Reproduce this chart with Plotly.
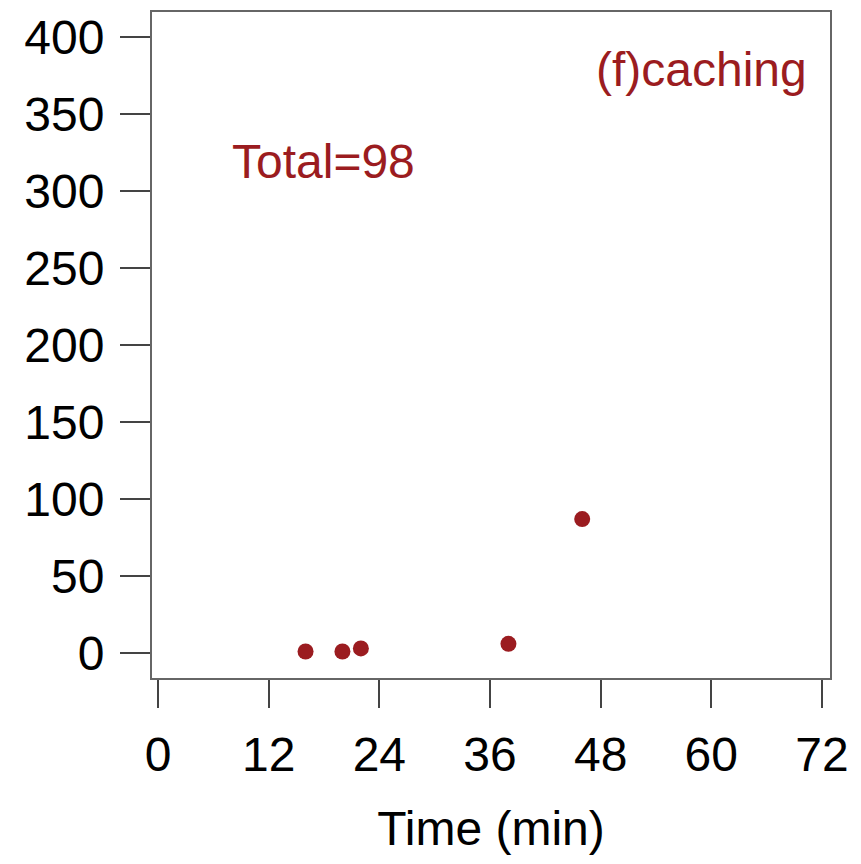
import plotly.graph_objects as go

# Caching events over time
time_min = [16, 20, 22, 38, 46]
counts = [1, 1, 3, 6, 87]
total = sum(counts)

x_ticks = [0, 12, 24, 36, 48, 60, 72]
y_ticks = [0, 50, 100, 150, 200, 250, 300, 350, 400]

red = "#9b1c20"
font_family = "Liberation Sans, Arial, Helvetica, sans-serif"
fsize = 48

fig = go.Figure()
fig.add_trace(go.Scatter(
    x=time_min, y=counts, mode="markers",
    marker=dict(color=red, size=16, line=dict(width=0)),
    showlegend=False, hoverinfo="x+y",
))

fig.add_annotation(x=18, y=319, text=f"Total={total}", showarrow=False,
                   font=dict(size=fsize, color=red, family=font_family))
fig.add_annotation(x=58.9, y=379, text="(f)caching", showarrow=False,
                   font=dict(size=fsize, color=red, family=font_family))

axis_common = dict(
    showgrid=False, zeroline=False,
    showline=True, linecolor="#666666", linewidth=2, mirror=True,
    ticks="outside", tickcolor="#444444", tickwidth=2,
    tickfont=dict(size=fsize, color="black", family=font_family),
)

fig.update_xaxes(
    range=[-0.65, 72.87], tickvals=x_ticks, ticktext=[str(v) for v in x_ticks],
    ticklen=28, ticklabelstandoff=5,
    title=dict(text="Time (min)", standoff=32,
               font=dict(size=fsize, color="black", family=font_family)),
    **axis_common,
)
fig.update_yaxes(
    range=[-16.2, 416.2], tickvals=y_ticks, ticktext=[str(v) for v in y_ticks],
    ticklen=30, ticklabelstandoff=6,
    **axis_common,
)

fig.update_layout(
    width=861, height=864,
    margin=dict(l=152, r=31, t=10, b=186),
    paper_bgcolor="white", plot_bgcolor="white",
    font=dict(family=font_family),
)

fig.write_html("out.html")
